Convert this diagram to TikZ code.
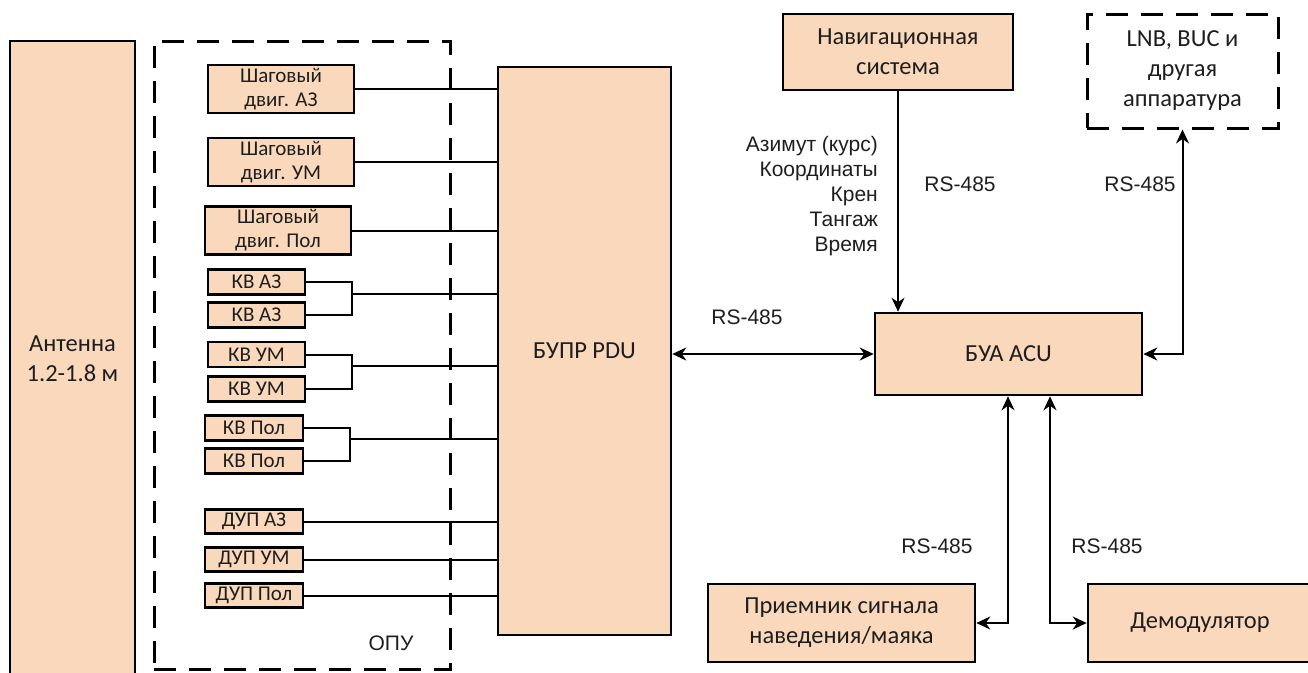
\documentclass[tikz,border=0pt]{standalone}
\usepackage{fontspec}
\setmainfont{Carlito}
\newfontfamily\arialfont{Liberation Sans}
\usepackage{tikz}
\usetikzlibrary{arrows.meta,positioning,calc}
\definecolor{bkfill}{HTML}{FAD8BC}
\definecolor{bktext}{HTML}{1E1E1E}
\tikzset{
  bkblock/.style={draw=black, fill=bkfill, line width=2.6pt, align=center,
    text=bktext, inner sep=0pt, font=\fontsize{24.5}{30}\selectfont},
  bksmall/.style={bkblock, font=\fontsize{21}{24}\selectfont},
  bkdash/.style={draw=black, line width=3pt, dash pattern=on 22pt off 13pt,
    align=center, text=bktext, inner sep=0pt, font=\fontsize{24.5}{30}\selectfont},
  bkwire/.style={line width=2pt, draw=black},
  bkarrow/.style={{Stealth[length=14pt,width=13pt]}-{Stealth[length=14pt,width=13pt]}, line width=2pt},
  bkone/.style={-{Stealth[length=14pt,width=13pt]}, line width=2pt},
  bknote/.style={font=\arialfont\fontsize{21}{25}\selectfont, text=bktext, align=right, inner sep=0pt}
}
\begin{document}
\begin{tikzpicture}[x=1pt, y=-1pt]
  \useasboundingbox (0,0) rectangle (1308,672);
  \node[bkblock, minimum width=125, minimum height=635] (ant) at (72.5,358.5) {Антенна\\1.2-1.8 м};
  \node[bkdash, minimum width=296, minimum height=628] (opu) at (302,355) {};
  \node[bknote, anchor=center] (opulbl) at (391,643) {ОПУ};
  \node[bksmall, minimum width=146, minimum height=48] (sdaz) at (281,89) {Шаговый\\двиг. АЗ};
  \node[bksmall, minimum width=146, minimum height=48] (sdum) at (281,162) {Шаговый\\двиг. УМ};
  \node[bksmall, minimum width=146, minimum height=48] (sdpol) at (278,230.5) {Шаговый\\двиг. Пол};
  \node[bksmall, minimum width=97, minimum height=25] (kvaz1) at (256.5,282) {КВ АЗ};
  \node[bksmall, minimum width=97, minimum height=25] (kvaz2) at (256.5,315) {КВ АЗ};
  \node[bksmall, minimum width=97, minimum height=25] (kvum1) at (256.5,354.5) {КВ УМ};
  \node[bksmall, minimum width=97, minimum height=25] (kvum2) at (256.5,389) {КВ УМ};
  \node[bksmall, minimum width=98, minimum height=25] (kvpol1) at (254,428) {КВ Пол};
  \node[bksmall, minimum width=98, minimum height=25] (kvpol2) at (254,461) {КВ Пол};
  \node[bksmall, minimum width=98, minimum height=24] (dupaz) at (254,521.5) {ДУП АЗ};
  \node[bksmall, minimum width=98, minimum height=24] (dupum) at (254,559.5) {ДУП УМ};
  \node[bksmall, minimum width=98, minimum height=24] (duppol) at (254,595.5) {ДУП Пол};
  \node[bkblock, minimum width=173, minimum height=568] (pdu) at (584.5,351) {БУПР PDU};
  \node[bkblock, minimum width=230, minimum height=76] (nav) at (898,52) {Навигационная\\система};
  \node[bkdash, minimum width=191, minimum height=114] (lnb) at (1182.5,71) {LNB, BUC и\\другая\\аппаратура};
  \node[bkblock, minimum width=267, minimum height=82] (acu) at (1008.5,354) {БУА ACU};
  \node[bkblock, minimum width=267, minimum height=78] (rcv) at (841.5,623) {Приемник сигнала\\наведения/маяка};
  \node[bkblock, minimum width=224, minimum height=78] (dem) at (1200,623) {Демодулятор};
  \coordinate (jaz) at (352,294);
  \coordinate (jum) at (352,366);
  \coordinate (jpol) at (350,439);
  \draw[bkwire] (sdaz.east) -- (sdaz.east -| pdu.west);
  \draw[bkwire] (sdum.east) -- (sdum.east -| pdu.west);
  \draw[bkwire] (sdpol.east) -- (sdpol.east -| pdu.west);
  \draw[bkwire] (kvaz1.east) -| (jaz) |- (kvaz2.east);
  \draw[bkwire] (jaz) -- (jaz -| pdu.west);
  \draw[bkwire] (kvum1.east) -| (jum) |- (kvum2.east);
  \draw[bkwire] (jum) -- (jum -| pdu.west);
  \draw[bkwire] (kvpol1.east) -| (jpol) |- (kvpol2.east);
  \draw[bkwire] (jpol) -- (jpol -| pdu.west);
  \draw[bkwire] (dupaz.east) -- (dupaz.east -| pdu.west);
  \draw[bkwire] (dupum.east) -- (dupum.east -| pdu.west);
  \draw[bkwire] (duppol.east) -- (duppol.east -| pdu.west);
  \draw[bkarrow] (acu.west -| pdu.east) -- (acu.west);
  \draw[bkone] (nav.south) -- (nav.south |- acu.north);
  \draw[bkarrow] (acu.east) -| (lnb.south);
  \draw[bkarrow] ([xshift=-0.5pt]acu.south) |- (rcv.east);
  \draw[bkarrow] ([xshift=41.5pt]acu.south) |- (dem.west);
  \node[bknote] (rspdu) at (747,317) {RS-485};
  \node[bknote] (rsnav) at (960,184) {RS-485};
  \node[bknote] (rslnb) at (1140,184) {RS-485};
  \node[bknote] (rsrcv) at (937,546) {RS-485};
  \node[bknote] (rsdem) at (1107,546) {RS-485};
  \node[bknote, anchor=north east] (navdata) at (878,136) {Азимут (курс)\\Координаты\\Крен\\Тангаж\\Время};
\end{tikzpicture}
\end{document}
